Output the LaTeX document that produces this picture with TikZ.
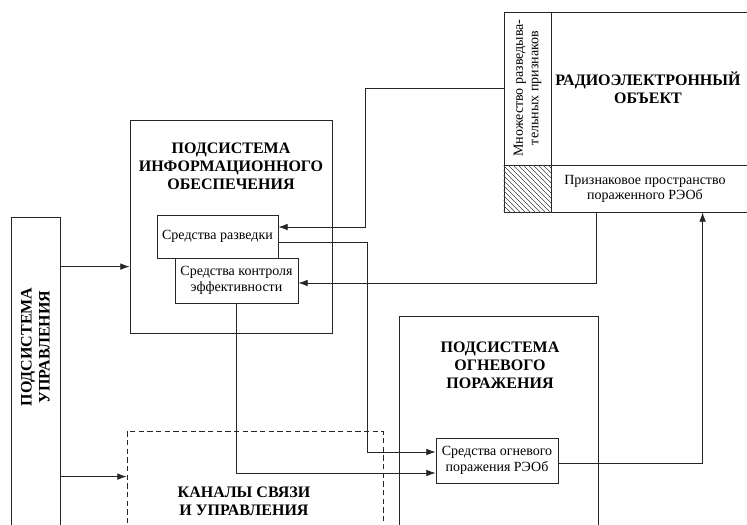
\documentclass[tikz,border=0pt]{standalone}
\usepackage{fontspec}
\setmainfont{Liberation Serif}
\usetikzlibrary{arrows.meta,calc}

\tikzset{every picture/.style={line width=0.6pt}}
\tikzset{
  blk/.style={draw=black!85, rectangle, inner sep=0pt},
  sz/.style 2 args={minimum width=#1*0.75pt, minimum height=#2*0.75pt},
  ttl/.style={font=\fontsize{12}{13.5}\selectfont\bfseries, align=center, inner sep=0pt},
  txt/.style={font=\fontsize{10.5}{11.5}\selectfont, align=center, inner sep=0pt},
  arr/.style={draw=black!85, -{Latex[length=7pt,width=5pt]}},
}

\begin{document}
\begin{tikzpicture}[x=0.75pt,y=0.75pt,yscale=-1,xscale=1]
	\useasboundingbox (0,0) rectangle (747,525);
	\clip (0,0) rectangle (747,525);

	% Subsystem boxes
	\node[blk, sz={49}{343}] (upr) at (35.5,388.5) {};
	\node[blk, sz={202}{213}] (info) at (231,226.5) {};
	\node[blk, sz={199}{244}] (ogn) at (498.5,438) {};
	\node[blk, sz={256}{129}, dash pattern={on 4pt off 2.5pt}] (kanal) at (255,495.5) {};

	% Radio-electronic object
	\node[blk, sz={256}{200}] (reo) at (632,112) {};
	\node[blk, sz={47}{153}] (mnozh) at (527.5,88.5) {};
	\node[blk, sz={209}{47}] (prizn) at (655.5,188.5) {};
	\node[blk, sz={47}{47}] (hatch) at (527.5,188.5) {};
	\begin{scope}
		\clip (hatch.north west) rectangle (hatch.south east);
		\foreach \i in {-46,-41,...,44}
			\draw[line width=0.35pt, black!75] (504+\i,165) -- ++(60,60);
	\end{scope}

	% Inner blocks
	\node[blk, sz={121}{43}, txt] (razv) at (217.5,236.5) {Средства разведки};
	\node[blk, sz={123}{45}, txt] (kontr) at (236.5,280.5) {Средства контроля\\эффективности};
	\node[blk, sz={122}{45}, txt] (ognS) at (497,460.5) {Средства огневого\\поражения РЭОб};

	% Text Node
	\node[ttl, rotate=90] (uprT) at (35.5,347) {ПОДСИСТЕМА\\УПРАВЛЕНИЯ};
	% Text Node
	\node[ttl] (infoT) at (231,166) {ПОДСИСТЕМА\\ИНФОРМАЦИОННОГО\\ОБЕСПЕЧЕНИЯ};
	% Text Node
	\node[ttl] (ognT) at (500,365) {ПОДСИСТЕМА\\ОГНЕВОГО\\ПОРАЖЕНИЯ};
	% Text Node
	\node[ttl] (kanalT) at (244,501) {КАНАЛЫ СВЯЗИ\\И УПРАВЛЕНИЯ};
	% Text Node
	\node[ttl] (reoT) at (648,88) {РАДИОЭЛЕКТРОННЫЙ\\ОБЪЕКТ};
	% Text Node
	\node[txt, rotate=90] (mnozhT) at (527.5,88) {Множество разведыва-\\тельных признаков};
	% Text Node
	\node[txt] (priznT) at (645,189) {Признаковое пространство\\пораженного РЭОб};

	% Connectors
	\draw[arr] (mnozh.west) -- (365,88.5) |- ($(razv.east)+(0,-9.5)$);
	\draw[arr] ($(razv.east)+(0,5.5)$) -- (367,242) |- ($(ognS.west)+(0,-8.5)$);
	\draw[arr] (kontr.south) |- ($(ognS.west)+(0,12.5)$);
	\draw[arr] ($(prizn.south west)+(46,0)$) |- ($(kontr.east)+(0,2.5)$);
	\draw[arr] ($(ognS.east)+(0,2.5)$) -| ($(reo.south west)+(199,0)$);
	\draw[arr] ($(upr.north east)+(0,50)$) coordinate (a1) -- (a1 -| info.west);
	\draw[arr] ($(upr.north east)+(0,260)$) coordinate (a2) -- (a2 -| kanal.west);

\end{tikzpicture}
\end{document}
